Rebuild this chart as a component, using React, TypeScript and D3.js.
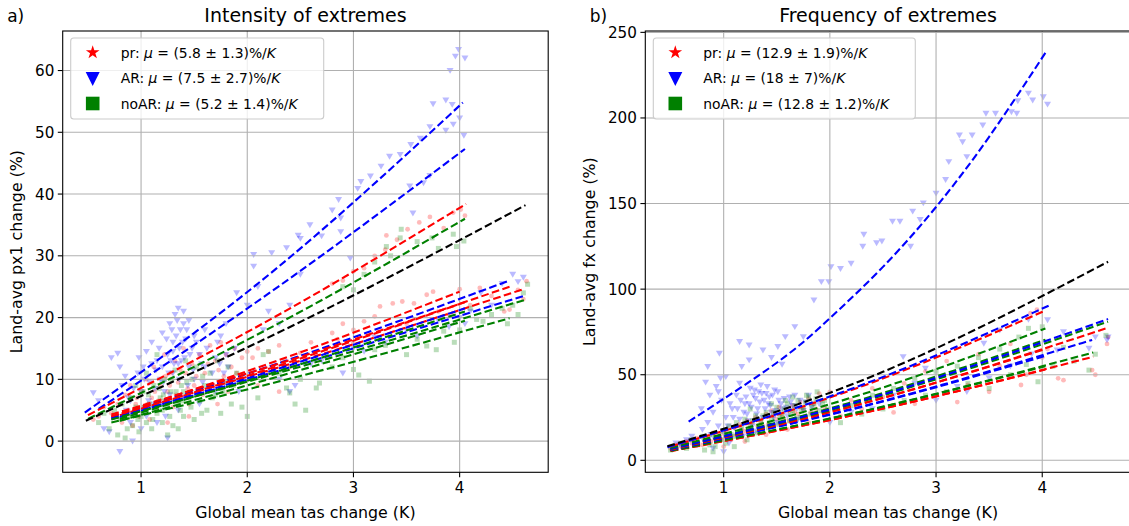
import React from "react";
import * as d3 from "d3";

const W = 1129;
const H = 526;

// ---- scatter values: [global mean tas change (K), land-avg change (%)] ----
const intensityAr: [number, number][] = [
  [3.99, 63.4], [4.05, 62.0], [3.96, 62.3], [3.91, 60.0], [3.87, 55.2], [3.93, 54.5], [3.75, 54.6],
  [4.0, 52.3], [3.94, 51.3], [3.87, 50.3], [4.04, 49.5], [3.72, 50.9], [3.63, 49.0], [3.54, 48.0],
  [3.44, 46.4], [3.34, 46.1], [3.26, 44.5], [3.16, 42.9], [3.07, 42.0], [3.04, 40.9], [3.72, 43.0],
  [3.66, 41.8], [3.53, 41.3], [3.56, 36.9], [2.86, 39.1], [2.88, 36.1], [2.8, 37.4], [2.88, 33.9],
  [2.59, 35.0], [2.48, 33.3], [2.37, 31.3], [2.23, 30.5], [2.06, 30.2], [2.06, 28.3], [2.97, 29.6],
  [2.5, 32.8], [2.7, 33.2],
  [1.9, 24], [2.0, 22], [2.1, 25], [2.2, 21], [2.3, 19], [2.4, 22], [2.15, 18], [1.8, 19], [1.75, 17],
  [2.5, 27],
  [2.3, 10], [2.45, 9], [2.6, 12.5], [2.4, 8], [3.0, 15], [3.1, 14.5], [3.3, 16], [3.2, 16.8],
  [3.5, 18], [3.6, 17], [3.8, 19.5], [4.0, 20], [4.1, 21], [4.2, 24], [4.3, 22], [4.4, 25.5],
  [4.5, 27], [4.6, 26.5], [4.55, 25.8], [3.9, 18.5], [2.7, 13], [2.9, 11], [4.05, 19],
  [0.55, 7.8], [0.6, 6.5], [0.65, 2], [0.7, 1.5], [0.72, 13.5], [0.78, 14.2], [0.8, 12], [0.82, 9],
  [0.85, 10.5], [0.88, 7], [0.9, 3], [0.92, 0], [0.8, -1.7], [0.95, 5], [0.97, 11], [1.0, 8],
  [1.02, 12], [1.05, 14.5], [1.05, 4], [1.08, 9.5], [1.1, 16], [1.12, 6], [1.15, 13], [1.18, 10],
  [1.2, 17.5], [1.22, 8], [1.25, 14], [1.27, 19], [1.3, 16], [1.3, 11], [1.32, 20.5], [1.35, 21.5],
  [1.37, 18], [1.38, 13], [1.4, 21], [1.42, 16.5], [1.45, 19.5], [1.45, 12], [1.48, 15], [1.5, 10],
  [1.5, 17], [1.55, 14], [1.6, 12], [1.6, 18], [1.65, 9], [1.7, 13.5], [1.72, 16], [1.78, 11],
  [1.8, 14], [1.85, 10], [1.88, 15], [1.25, 0.5], [1.15, 3], [1.35, 5], [1.4, 7], [1.55, 6],
  [1.0, 2], [0.9, 6.5], [1.2, 12], [1.3, 14.5], [1.33, 17], [1.4, 19], [1.36, 15], [1.28, 13],
  [1.14, 11.5], [1.17, 15], [1.21, 9.5], [1.24, 16.5], [1.26, 11], [1.29, 18], [1.31, 12.5],
  [1.34, 19.5], [1.36, 10], [1.39, 16], [1.41, 13.5], [1.43, 18], [1.46, 14], [1.49, 11.5],
  [1.52, 16], [1.57, 12.5], [1.62, 15], [1.67, 11], [1.74, 12.5], [1.82, 12], [1.92, 8],
  [0.98, 13.5], [1.03, 10], [1.07, 6.5], [1.1, 12.5], [0.93, 8.5], [0.86, 5], [0.75, 4],
  [1.13, 8.5], [1.19, 6], [1.23, 4], [1.44, 9], [1.58, 9.5], [1.7, 8], [1.35, 12.5], [1.27, 7.5],
];

const intensityPr: [number, number][] = [
  [0.72, 4.5], [0.78, 6], [0.82, 3], [0.85, 7.5], [0.88, 5], [0.9, 9], [0.92, 2.5], [0.95, 6],
  [0.98, 4], [1.0, 8], [1.02, 5.5], [1.05, 10], [1.08, 3.5], [1.1, 7], [1.12, 12], [1.15, 5],
  [1.18, 9], [1.2, 6.5], [1.22, 14], [1.25, 8], [1.28, 11], [1.3, 5.5], [1.32, 13], [1.35, 9.5],
  [1.38, 7], [1.4, 15], [1.42, 11], [1.45, 6], [1.48, 12.5], [1.5, 9], [1.55, 14], [1.58, 7.5],
  [1.6, 11], [1.65, 15.5], [1.68, 9], [1.7, 13], [1.72, 6], [1.75, 16], [1.78, 10.5], [1.8, 14],
  [1.82, 8], [1.85, 12], [1.88, 15], [1.9, 11], [1.95, 13.5], [0.6, 4], [0.55, 3.5], [0.65, 5.5],
  [1.25, 3], [1.45, 4], [1.13, 8], [1.16, 6.5], [1.27, 9], [1.33, 7.5], [1.37, 11.5], [1.44, 8.5],
  [1.52, 10.5], [1.63, 12.5], [1.73, 11.5], [1.83, 10], [0.96, 7], [1.06, 6], [1.23, 10.5],
  [2.0, 14.5], [2.05, 13.5], [2.1, 15], [2.2, 14.5], [2.3, 15.5], [2.35, 13], [2.4, 12], [2.5, 14.3],
  [2.1, 9], [2.3, 8], [2.2, 11], [2.6, 16], [2.8, 17.5], [2.9, 19], [3.0, 18], [3.1, 19.4],
  [3.2, 20.2], [3.25, 21.8], [3.0, 16], [2.85, 16.5],
  [3.31, 33.3], [3.41, 32.6], [3.51, 34.3], [3.62, 35.4], [3.72, 36.3], [3.94, 37], [4.01, 37.5],
  [4.05, 36.5], [3.2, 30], [3.1, 28], [3.0, 27.5], [2.9, 26], [2.8, 25.5], [3.85, 34.5], [3.3, 31],
  [3.37, 22.3], [3.46, 22.6], [3.57, 22.3], [3.69, 23.7], [3.75, 24.2], [4.0, 24.6], [4.19, 24.8],
  [4.47, 21.3], [4.42, 21], [4.63, 25.9], [3.5, 19], [3.8, 21], [4.1, 22], [4.3, 23.5], [4.55, 24.5],
  [3.9, 20.5], [4.6, 23],
];

const intensityNoAr: [number, number][] = [
  [0.6, 3], [0.65, 4.5], [0.7, 2], [0.75, 5], [0.78, 1], [0.8, 3.5], [0.82, 6], [0.85, 0.5],
  [0.88, 4], [0.9, 7], [0.92, 2.5], [0.95, 5.5], [0.98, 1.5], [1.0, 4], [1.02, 8], [1.05, 3],
  [1.08, 6], [1.1, 2], [1.12, 9], [1.15, 4.5], [1.18, 7], [1.2, 3], [1.22, 10], [1.25, 5.5],
  [1.28, 8], [1.3, 2.5], [1.32, 11.5], [1.35, 6], [1.38, 9], [1.4, 4], [1.42, 13], [1.45, 7],
  [1.48, 10], [1.5, 3.5], [1.52, 12], [1.55, 6.5], [1.6, 9], [1.62, 5], [1.65, 11], [1.7, 7.5],
  [1.72, 13], [1.75, 4.5], [1.8, 9.5], [1.85, 6], [1.9, 11], [1.95, 5.5], [2.0, 4], [1.25, 1],
  [1.35, 2], [1.15, 14], [1.05, 11], [0.95, 9], [1.3, 6.5], [1.4, 8], [1.2, 5],
  [1.13, 5.5], [1.17, 8.5], [1.23, 6.5], [1.27, 4], [1.33, 8], [1.37, 5], [1.43, 9.5], [1.47, 5.5],
  [1.53, 8], [1.58, 10.5], [1.67, 7], [1.77, 8], [1.87, 9], [1.03, 5.5], [1.07, 7.5], [0.97, 3.5],
  [0.87, 2], [1.11, 3.5], [1.21, 7.5], [1.29, 10], [1.39, 6.5], [1.57, 4.5], [1.82, 12],
  [2.1, 7], [2.15, 14], [2.2, 14.5], [2.37, 8.6], [2.4, 7.8], [2.45, 6], [2.55, 5], [2.65, 8.6],
  [2.68, 9.4], [3.0, 11.6], [3.05, 10.7], [3.15, 9.7], [2.3, 11], [2.5, 10], [2.8, 12], [2.9, 13.5],
  [3.2, 14.8], [3.3, 15.5],
  [3.31, 31.5], [3.44, 32.9], [3.45, 34.3], [3.6, 32.3], [3.74, 32.9], [3.94, 33.5], [4.04, 32.4],
  [3.97, 31.5], [3.8, 31.2], [3.2, 29], [3.35, 30], [3.1, 27], [2.9, 25], [3.0, 24.5],
  [3.78, 14.8], [3.69, 15.4], [3.85, 17.8], [4.16, 19.7], [4.22, 19.4], [4.64, 25.4], [3.5, 14],
  [3.6, 16.5], [4.0, 18], [4.1, 21.5], [4.3, 20.5], [4.4, 21.5], [4.5, 22], [4.55, 20.5],
  [4.45, 19], [3.95, 16], [4.6, 24],
];

const frequencyAr: [number, number][] = [
  [3.87, 214.4], [3.91, 210.4], [4.01, 212.3], [3.77, 210], [3.76, 202.7], [3.71, 203.5],
  [3.56, 202.7], [3.47, 202.7], [3.44, 195.8], [3.34, 190], [3.22, 190], [3.25, 186], [3.29, 177.3],
  [3.12, 174.4], [3.09, 164], [3.0, 156], [2.88, 150.3], [2.78, 145.5], [2.85, 140.6], [2.59, 139.6],
  [2.66, 139.6], [2.76, 125], [2.49, 128], [2.44, 127], [2.32, 132], [2.31, 125], [2.2, 115],
  [2.01, 113], [2.1, 112], [1.92, 104.3], [1.99, 104.3], [1.85, 93.6], [1.67, 78], [1.75, 72.2],
  [1.58, 72.2], [1.51, 66.4], [1.37, 64.4], [1.15, 69.3], [1.24, 67.3], [0.96, 62.5], [1.02, 48.8],
  [0.85, 54.7], [0.83, 45.6], [1.17, 54.7], [1.24, 58.6], [1.45, 60], [1.55, 56], [4.05, 208],
  [0.55, 10], [0.6, 8], [0.65, 12], [0.7, 14], [0.75, 9], [0.8, 18], [0.82, 11], [0.85, 22],
  [0.88, 15], [0.9, 28], [0.92, 12], [0.95, 20], [0.98, 35], [1.0, 16], [1.02, 25], [1.05, 10],
  [1.08, 30], [1.1, 19], [1.12, 38], [1.15, 24], [1.18, 14], [1.2, 33], [1.22, 27], [1.25, 42],
  [1.27, 20], [1.3, 36], [1.32, 30], [1.35, 44], [1.37, 25], [1.4, 39], [1.42, 33], [1.45, 28],
  [1.48, 41], [1.5, 22], [1.52, 35], [1.55, 30], [1.6, 26], [1.62, 37], [1.65, 32], [1.7, 24],
  [1.72, 35], [1.75, 29], [1.8, 38], [1.85, 27], [1.9, 33], [0.9, 7], [1.0, 5], [1.3, 17],
  [1.15, 45], [0.95, 40], [1.28, 38], [1.33, 40], [1.38, 35], [1.43, 37], [1.26, 31],
  [1.21, 37], [1.24, 33], [1.29, 41], [1.31, 27], [1.34, 34], [1.36, 39], [1.39, 30], [1.41, 43],
  [1.44, 32], [1.46, 38], [1.49, 29], [1.51, 40], [1.54, 33], [1.57, 36], [1.59, 31], [1.63, 34],
  [1.67, 38], [1.69, 30], [1.77, 34], [1.83, 31], [1.13, 30], [1.16, 35], [1.19, 28], [1.06, 33],
  [0.87, 38], [0.93, 43], [0.97, 48], [0.79, 30], [1.04, 20], [1.09, 25], [1.23, 23], [1.47, 25],
  [2.0, 22], [2.2, 28], [2.4, 30], [2.69, 60.5], [2.9, 53.7], [3.29, 40.1], [3.45, 68.3],
  [3.87, 82.3], [4.05, 82], [4.14, 64.4], [4.44, 65.4], [4.61, 70.3], [3.0, 35], [3.2, 43],
  [3.5, 48], [3.7, 55], [3.9, 62], [4.2, 75], [4.5, 72], [2.6, 38], [2.8, 45], [3.6, 76], [4.62, 72],
];

const frequencyPr: [number, number][] = [
  [0.5, 7], [0.55, 9], [0.6, 8], [0.65, 11], [0.7, 10], [0.75, 13], [0.8, 9], [0.85, 14],
  [0.88, 11], [0.9, 16], [0.95, 13], [1.0, 12], [1.02, 17], [1.05, 14], [1.1, 19], [1.12, 15],
  [1.15, 21], [1.2, 17], [1.22, 23], [1.25, 19], [1.3, 25], [1.32, 20], [1.35, 23], [1.4, 27],
  [1.42, 21], [1.45, 29], [1.5, 24], [1.52, 31], [1.55, 26], [1.6, 29], [1.62, 23], [1.65, 32],
  [1.7, 27], [1.72, 34], [1.75, 30], [1.8, 36], [1.82, 28], [1.85, 33], [1.9, 39], [1.95, 31],
  [1.0, 8], [1.2, 11], [1.4, 15], [1.6, 18], [1.8, 22], [2.0, 40], [1.17, 18], [1.27, 22],
  [1.37, 20], [1.47, 26], [1.57, 24], [1.67, 28], [1.77, 26], [1.87, 30], [0.97, 15], [1.07, 12],
  [2.1, 26], [2.2, 35], [2.3, 30], [2.4, 42], [2.5, 37], [2.6, 28], [2.7, 45], [2.8, 33],
  [2.9, 52], [3.0, 38], [3.1, 58], [3.2, 34], [3.3, 44], [3.4, 62], [3.5, 40], [3.6, 55],
  [3.7, 68], [3.8, 44], [3.89, 85.9], [3.95, 88], [4.0, 60], [4.15, 47.9], [4.2, 46.8],
  [4.47, 52.7], [4.5, 50], [4.61, 68], [4.62, 72], [3.85, 50], [4.05, 65],
];

const frequencyNoAr: [number, number][] = [
  [0.5, 6], [0.55, 8], [0.6, 10], [0.65, 7], [0.7, 12], [0.75, 9], [0.8, 14], [0.82, 6],
  [0.85, 11], [0.9, 15], [0.92, 8], [0.95, 13], [1.0, 17], [1.02, 10], [1.05, 20], [1.1, 14],
  [1.12, 22], [1.15, 17], [1.2, 24], [1.22, 12], [1.25, 20], [1.3, 26], [1.32, 16], [1.35, 23],
  [1.4, 28], [1.42, 19], [1.45, 25], [1.5, 31], [1.52, 21], [1.55, 27], [1.6, 33], [1.62, 23],
  [1.65, 29], [1.7, 35], [1.72, 25], [1.75, 31], [1.8, 37], [1.82, 27], [1.85, 33], [1.9, 29],
  [1.95, 35], [1.25, 30], [1.45, 33], [1.65, 37], [1.1, 8], [0.9, 5],
  [1.17, 20], [1.27, 23], [1.37, 26], [1.47, 28], [1.57, 30], [1.67, 32], [1.77, 34], [1.87, 36],
  [1.53, 25], [1.63, 27], [1.73, 29], [1.83, 31], [1.93, 33], [1.43, 22], [1.33, 20], [1.23, 18],
  [1.07, 15], [0.97, 12], [0.87, 9], [1.78, 38], [1.88, 40], [1.58, 35], [1.68, 24], [1.98, 30],
  [2.1, 22], [2.2, 32], [2.3, 27], [2.4, 38], [2.5, 30], [2.6, 42], [2.7, 35], [2.8, 48],
  [2.9, 38], [3.0, 52], [3.1, 40], [3.2, 55], [3.3, 45], [3.4, 60], [3.5, 42], [3.6, 65],
  [3.7, 50], [3.78, 72], [3.87, 77.1], [4.0, 78], [3.96, 45.9], [4.1, 55], [4.3, 58],
  [4.44, 52.7], [4.5, 62], [4.6, 73], [3.85, 56], [4.2, 66],
];

// ---- fitted curves: start, middle, end points ----
type Fit = { kind: string; pts: [number, number][] };

const intensityFits: Fit[] = [
  { kind: "ar", pts: [[0.47, 4.6], [2.25, 27.6], [4.03, 54.8]] },
  { kind: "ar", pts: [[0.6, 5.2], [2.3, 25.1], [4.05, 47.3]] },
  { kind: "pr", pts: [[0.5, 4.2], [2.3, 20.5], [4.06, 38.4]] },
  { kind: "noAr", pts: [[0.5, 3.6], [2.3, 19.1], [4.05, 36.0]] },
  { kind: "all", pts: [[0.48, 3.3], [2.5, 19.3], [4.62, 38.2]] },
  { kind: "pr", pts: [[0.72, 4.0], [2.36, 13.5], [4.0, 24.2]] },
  { kind: "ar", pts: [[0.72, 3.8], [2.6, 14.4], [4.47, 26.0]] },
  { kind: "pr", pts: [[0.72, 4.3], [2.6, 14.2], [4.47, 25.0]] },
  { kind: "pr", pts: [[0.72, 4.0], [2.65, 13.8], [4.6, 24.6]] },
  { kind: "pr", pts: [[0.8, 4.2], [2.4, 12.8], [4.05, 22.5]] },
  { kind: "ar", pts: [[0.72, 3.6], [2.65, 13.2], [4.62, 23.6]] },
  { kind: "ar", pts: [[0.8, 3.9], [2.4, 12.3], [4.05, 21.5]] },
  { kind: "noAr", pts: [[0.72, 3.5], [2.65, 12.8], [4.62, 22.9]] },
  { kind: "noAr", pts: [[0.72, 3.0], [2.6, 11.0], [4.47, 19.9]] },
  { kind: "noAr", pts: [[0.8, 3.6], [2.4, 11.9], [4.05, 21.0]] },
  { kind: "noAr", pts: [[0.8, 3.3], [2.4, 11.0], [4.05, 19.5]] },
];

const frequencyFits: Fit[] = [
  { kind: "pr", pts: [[0.5, 5.4], [2.3, 27.5], [4.03, 53]] },
  { kind: "noAr", pts: [[0.5, 5.6], [2.3, 28.4], [4.03, 55]] },
  { kind: "pr", pts: [[0.5, 5.4], [2.5, 30.2], [4.48, 60.5]] },
  { kind: "noAr", pts: [[0.5, 5.6], [2.5, 31.4], [4.48, 63]] },
  { kind: "ar", pts: [[0.5, 6.1], [2.3, 31.2], [4.03, 61]] },
  { kind: "ar", pts: [[0.5, 6.1], [2.5, 34.7], [4.47, 70.3]] },
  { kind: "pr", pts: [[0.5, 6.4], [2.3, 33.1], [4.03, 65]] },
  { kind: "noAr", pts: [[0.5, 6.8], [2.3, 35.6], [4.03, 70.5]] },
  { kind: "pr", pts: [[0.5, 6.4], [2.5, 36.4], [4.62, 77.5]] },
  { kind: "noAr", pts: [[0.5, 6.6], [2.5, 37.9], [4.62, 81]] },
  { kind: "ar", pts: [[0.5, 6.7], [2.5, 38.5], [4.62, 82.5]] },
  { kind: "noAr", pts: [[0.5, 7.3], [2.3, 38.5], [4.03, 77]] },
  { kind: "pr", pts: [[0.5, 8.1], [2.3, 43.2], [4.03, 87.5]] },
  { kind: "ar", pts: [[0.47, 7.7], [2.3, 44.0], [4.06, 90.3]] },
  { kind: "all", pts: [[0.47, 8.2], [2.5, 51.7], [4.62, 116]] },
  {
    kind: "ar",
    pts: [[0.67, 22.6], [1.5, 57], [2.0, 83], [2.5, 113], [3.0, 148], [3.5, 189], [4.04, 239]],
  },
];

const intensityLegend = [
  { kind: "pr", name: "pr", mu: "5.8", err: "1.3" },
  { kind: "ar", name: "AR", mu: "7.5", err: "2.7" },
  { kind: "noAr", name: "noAR", mu: "5.2", err: "1.4" },
];
const frequencyLegend = [
  { kind: "pr", name: "pr", mu: "12.9", err: "1.9" },
  { kind: "ar", name: "AR", mu: "18", err: "7" },
  { kind: "noAr", name: "noAR", mu: "12.8", err: "1.2" },
];

const xTicks = [1, 2, 3, 4];
const intensityYTicks = [0, 10, 20, 30, 40, 50, 60];
const frequencyYTicks = [0, 50, 100, 150, 200, 250];

const COLORS: Record<string, string> = {
  pr: "#ff0000",
  ar: "#0000ff",
  noAr: "#008000",
  all: "#000000",
};
const FONT = "DejaVu Sans, sans-serif";
const TICK_FS = 15.2;
const LABEL_FS = 15.8;
const TITLE_FS = 19;
const LEGEND_FS = 13.9;
const DOT_ALPHA = 0.27;

const triDown = "M-3.5,-2.6L3.5,-2.6L0,3.3Z";
const bigTriDown = "M-7,-6L7,-6L0,8Z";
const star = d3.symbol(d3.symbolStar, 58)() as string;

type PanelProps = {
  id: string;
  left: number;
  right: number;
  top: number;
  bottom: number;
  xDomain: [number, number];
  yDomain: [number, number];
  yTicks: number[];
  pr: [number, number][];
  ar: [number, number][];
  noAr: [number, number][];
  fits: Fit[];
  legend: typeof intensityLegend;
  legendWidth: number;
  title: string;
  tag: string;
  yLabel: string;
  yLabelX: number;
};

function Panel(p: PanelProps) {
  const x = d3.scaleLinear().domain(p.xDomain).range([p.left, p.right]);
  const y = d3.scaleLinear().domain(p.yDomain).range([p.bottom, p.top]);
  const line = d3
    .line<[number, number]>()
    .x((d) => x(d[0]))
    .y((d) => y(d[1]))
    .curve(d3.curveNatural);
  const plotCx = (p.left + p.right) / 2;
  const lx = p.left + 8;
  const ly = p.top + 7;

  return (
    <g>
      <defs>
        <clipPath id={p.id}>
          <rect x={p.left} y={p.top} width={p.right - p.left} height={p.bottom - p.top} />
        </clipPath>
      </defs>
      <g clipPath={`url(#${p.id})`}>
        {p.pr.map((d, i) => (
          <circle key={"p" + i} cx={x(d[0])} cy={y(d[1])} r={2.4} fill={COLORS.pr} fillOpacity={DOT_ALPHA} />
        ))}
        {p.ar.map((d, i) => (
          <path
            key={"a" + i}
            d={triDown}
            transform={`translate(${x(d[0])},${y(d[1])})`}
            fill={COLORS.ar}
            fillOpacity={DOT_ALPHA}
          />
        ))}
        {p.noAr.map((d, i) => (
          <rect
            key={"n" + i}
            x={x(d[0]) - 2.5}
            y={y(d[1]) - 2.5}
            width={5}
            height={5}
            fill={COLORS.noAr}
            fillOpacity={DOT_ALPHA}
          />
        ))}
        {xTicks.map((t) => (
          <line key={"gx" + t} x1={x(t)} x2={x(t)} y1={p.top} y2={p.bottom} stroke="#b0b0b0" strokeWidth={1.1} />
        ))}
        {p.yTicks.map((t) => (
          <line key={"gy" + t} x1={p.left} x2={p.right} y1={y(t)} y2={y(t)} stroke="#b0b0b0" strokeWidth={1.1} />
        ))}
        {p.fits.map((f, i) => (
          <path
            key={"f" + i}
            d={line(f.pts) as string}
            fill="none"
            stroke={COLORS[f.kind]}
            strokeWidth={2.1}
            strokeDasharray="7.7 3.4"
          />
        ))}
      </g>
      <rect
        x={p.left}
        y={p.top}
        width={p.right - p.left}
        height={p.bottom - p.top}
        fill="none"
        stroke="#000"
        strokeWidth={1.1}
      />
      {xTicks.map((t) => (
        <g key={"tx" + t}>
          <line x1={x(t)} x2={x(t)} y1={p.bottom} y2={p.bottom + 4.9} stroke="#000" strokeWidth={1.1} />
          <text x={x(t)} y={p.bottom + 21} textAnchor="middle" fontSize={TICK_FS} fontFamily={FONT}>
            {t}
          </text>
        </g>
      ))}
      {p.yTicks.map((t) => (
        <g key={"ty" + t}>
          <line x1={p.left - 4.9} x2={p.left} y1={y(t)} y2={y(t)} stroke="#000" strokeWidth={1.1} />
          <text x={p.left - 8.4} y={y(t) + 5.5} textAnchor="end" fontSize={TICK_FS} fontFamily={FONT}>
            {t}
          </text>
        </g>
      ))}
      <text x={plotCx} y={518} textAnchor="middle" fontSize={LABEL_FS} fontFamily={FONT}>
        Global mean tas change (K)
      </text>
      <text
        transform={`translate(${p.yLabelX},${(p.top + p.bottom) / 2}) rotate(-90)`}
        textAnchor="middle"
        fontSize={LABEL_FS}
        fontFamily={FONT}
      >
        {p.yLabel}
      </text>
      <text x={plotCx} y={22} textAnchor="middle" fontSize={TITLE_FS} fontFamily={FONT}>
        {p.title}
      </text>
      <text x={p.left - 55.5} y={22} fontSize={17} fontFamily={FONT}>
        {p.tag}
      </text>
      <rect
        x={lx}
        y={ly}
        width={p.legendWidth}
        height={81}
        rx={3}
        fill="#fff"
        fillOpacity={0.8}
        stroke="#cccccc"
        strokeWidth={1.1}
      />
      {p.legend.map((e, i) => {
        const ry = ly + 14.5 + i * 25.5;
        const mx = lx + 22;
        return (
          <g key={"l" + i}>
            {e.kind === "pr" && <path d={star} transform={`translate(${mx},${ry})`} fill={COLORS.pr} />}
            {e.kind === "ar" && <path d={bigTriDown} transform={`translate(${mx},${ry})`} fill={COLORS.ar} />}
            {e.kind === "noAr" && (
              <rect x={mx - 6.8} y={ry - 6.8} width={13.6} height={13.6} fill={COLORS.noAr} />
            )}
            <text x={lx + 50} y={ry + 5} fontSize={LEGEND_FS} fontFamily={FONT}>
              <tspan>{e.name}: </tspan>
              <tspan fontStyle="italic">μ</tspan>
              <tspan>{` = (${e.mu} ± ${e.err})%/`}</tspan>
              <tspan fontStyle="italic">K</tspan>
            </text>
          </g>
        );
      })}
    </g>
  );
}

export default function App() {
  const xDomain: [number, number] = [0.262, 4.834];
  return (
    <svg
      width={W}
      height={H}
      viewBox={`0 0 ${W} ${H}`}
      style={{ position: "absolute", left: 0, top: 0, background: "#fff" }}
    >
      <Panel
        id="clipA"
        left={62.7}
        right={548.2}
        top={31}
        bottom={472.3}
        xDomain={xDomain}
        yDomain={[-5.05, 66.4]}
        yTicks={intensityYTicks}
        pr={intensityPr}
        ar={intensityAr}
        noAr={intensityNoAr}
        fits={intensityFits}
        legend={intensityLegend}
        legendWidth={253}
        title="Intensity of extremes"
        tag="a)"
        yLabel="Land-avg px1 change (%)"
        yLabelX={22}
      />
      <Panel
        id="clipB"
        left={645.3}
        right={1130.8}
        top={31}
        bottom={472.3}
        xDomain={xDomain}
        yDomain={[-7.0, 250.8]}
        yTicks={frequencyYTicks}
        pr={frequencyPr}
        ar={frequencyAr}
        noAr={frequencyNoAr}
        fits={frequencyFits}
        legend={frequencyLegend}
        legendWidth={262}
        title="Frequency of extremes"
        tag="b)"
        yLabel="Land-avg fx change (%)"
        yLabelX={595}
      />
    </svg>
  );
}
